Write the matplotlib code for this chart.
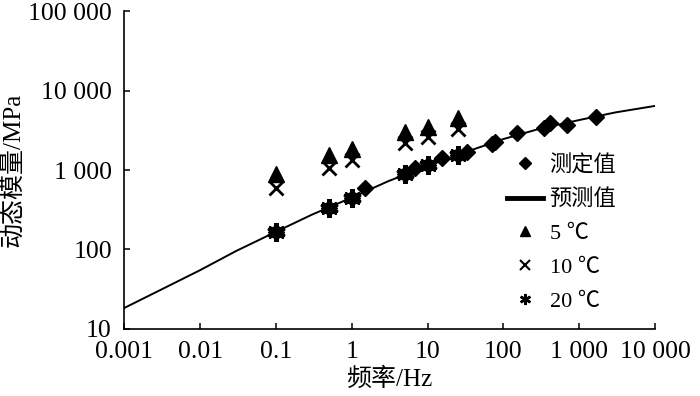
import numpy as np
import matplotlib
matplotlib.use('Agg')
import matplotlib.pyplot as plt
from matplotlib.lines import Line2D

plt.rcParams['font.family'] = ['Liberation Serif', 'Noto Sans CJK SC', 'DejaVu Sans']
plt.rcParams['axes.unicode_minus'] = False

# ── données ────────────────────────────────────────────────
# courbe prédite (预测值)
pred_f = [0.001, 0.003, 0.01, 0.03, 0.1, 0.3, 1, 3, 10, 30, 100, 300, 1000, 3000, 10000]
pred_E = [18.4, 31, 55, 96, 167, 275, 450, 720, 1130, 1650, 2450, 3300, 4250, 5300, 6400]

# valeurs mesurées (测定值)
meas_f = [0.1, 0.5, 1, 1.5, 5, 6.8, 10, 15.4, 25, 33, 70, 78, 150, 340, 413, 685, 1670]
meas_E = [167, 335, 450, 590, 900, 1050, 1150, 1400, 1550, 1700, 2120, 2270, 2890, 3330, 3860, 3680, 4680]

# essais à température
temp_f = [0.1, 0.5, 1, 5, 10, 25]
t5_E = [890, 1550, 1860, 3020, 3510, 4470]
t10_E = [590, 1050, 1340, 2170, 2570, 3240]
t20_E = [167, 335, 450, 900, 1150, 1550]

x_ticks = [0.001, 0.01, 0.1, 1, 10, 100, 1000, 10000]
x_labels = ['0.001', '0.01', '0.1', '1', '10', '100', '1 000', '10 000']
y_ticks = [10, 100, 1000, 10000, 100000]
y_labels = ['10', '100', '1 000', '10 000', '100 000']

# ── figure ─────────────────────────────────────────────────
fig = plt.figure(figsize=(7, 3.96), dpi=100)
ax = fig.add_axes([0.1776, 0.1692, 0.7581, 0.8030])

ax.plot(pred_f, pred_E, '-', color='k', lw=1.4, zorder=2)
ax.plot(meas_f, meas_E, 'D', color='k', ms=8, ls='none', zorder=3)
ax.plot(temp_f, t5_E, '^', color='k', ms=11, ls='none', zorder=3)
ax.plot(temp_f, t10_E, 'x', color='k', ms=10, mew=2, ls='none', zorder=4)
ax.plot(temp_f, t20_E, marker=(6, 2, 0), color='k', ms=13, mew=3.5,
        ls='none', zorder=4)

ax.set_xscale('log')
ax.set_yscale('log')
ax.set_xlim(0.001, 10000)
ax.set_ylim(10, 100000)
ax.set_xticks(x_ticks)
ax.set_xticklabels(x_labels)
ax.set_yticks(y_ticks)
ax.set_yticklabels(y_labels)
ax.minorticks_off()
ax.tick_params(direction='in', length=4, width=1.1, labelsize=18.5, colors='k')
ax.tick_params(axis='x', pad=9)
ax.tick_params(axis='y', pad=9)

for s in ['top', 'right']:
    ax.spines[s].set_visible(False)
for s in ['left', 'bottom']:
    ax.spines[s].set_linewidth(1.2)

ax.set_xlabel('频率/Hz', fontsize=18, labelpad=3)
ax.set_ylabel('动态模量/MPa', fontsize=18, labelpad=2)

handles = [
    Line2D([], [], marker='D', color='k', ms=6, ls='none'),
    Line2D([], [], color='k', lw=3.5),
    Line2D([], [], marker='^', color='k', ms=7.5, ls='none'),
    Line2D([], [], marker='x', color='k', ms=7, mew=1.5, ls='none'),
    Line2D([], [], marker=(6, 2, 0), color='k', ms=8, mew=1.8, ls='none'),
]
labels = ['测定值', '预测值', '5 ℃', '10 ℃', '20 ℃']
ax.legend(handles, labels, loc='upper left', bbox_to_anchor=(0.705, 0.575),
          frameon=False, fontsize=16, handlelength=1.6, handletextpad=0.3,
          labelspacing=0.6, borderaxespad=0)

fig.savefig('out.png', dpi=100)
